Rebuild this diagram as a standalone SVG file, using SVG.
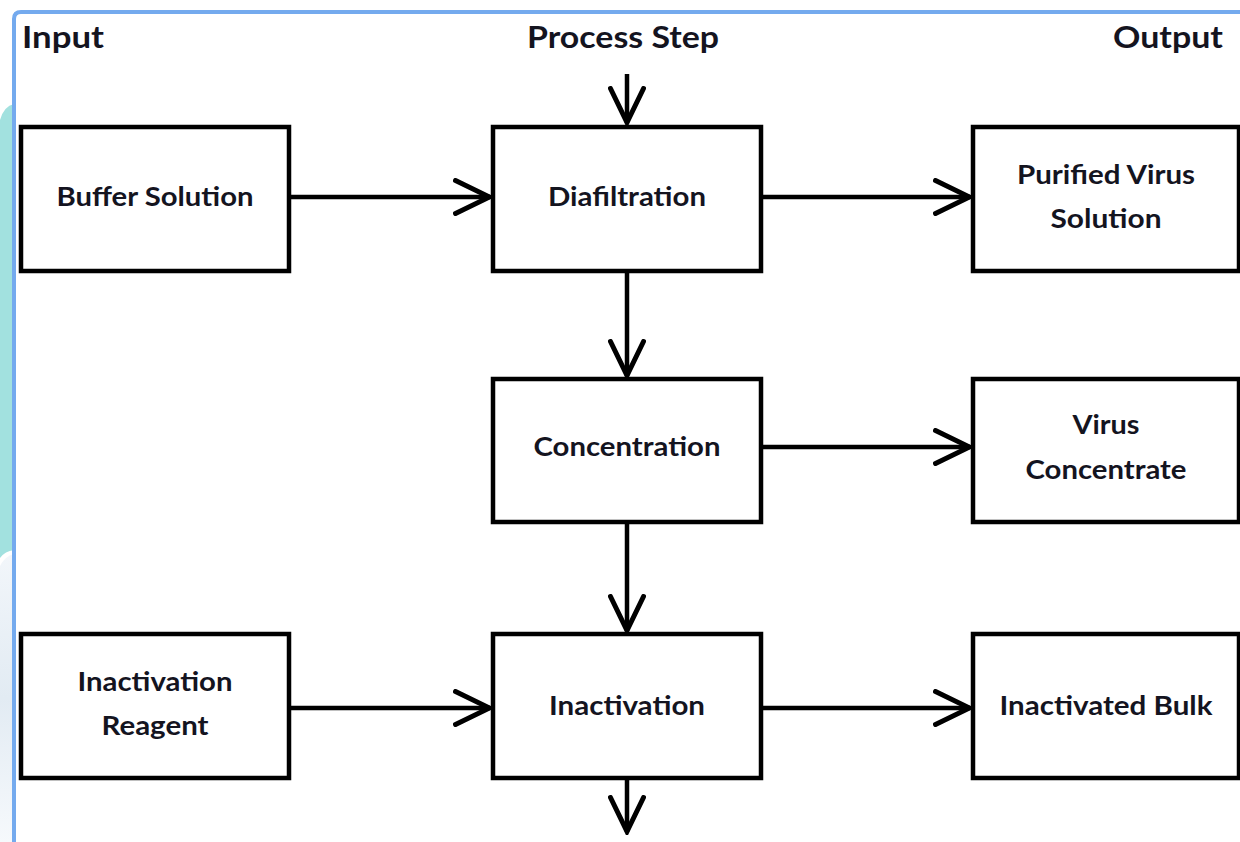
<svg xmlns="http://www.w3.org/2000/svg" width="1240" height="842" viewBox="0 0 1240 842">
  <defs>
    <linearGradient id="lowerBand" x1="0" y1="0" x2="0" y2="1">
      <stop offset="0" stop-color="#f2f6fa"/>
      <stop offset="0.5" stop-color="#e2ebf3"/>
      <stop offset="1" stop-color="#f6f9fc"/>
    </linearGradient>
    <marker id="chevron" viewBox="0 0 40 38" refX="37.5" refY="19" markerWidth="40" markerHeight="38" markerUnits="userSpaceOnUse" orient="auto">
      <path d="M3,2.5 L37,19 L3,35.5" fill="none" stroke="#000" stroke-width="5" stroke-linecap="round" stroke-linejoin="miter"/>
    </marker>
    <style>
      .box { fill: #fff; stroke: #000; stroke-width: 4.5; }
      .lbl { font-family: Lato, "Open Sans", "Liberation Sans", sans-serif; font-weight: 700; font-size: 26px; fill: #14141f; text-anchor: middle; }
      .hdr { font-family: Lato, "Open Sans", "Liberation Sans", sans-serif; font-weight: 700; font-size: 30px; fill: #14141f; }
      .wire { fill: none; stroke: #000; stroke-width: 4.5; marker-end: url(#chevron); }
    </style>
  </defs>

  <!-- page background -->
  <rect x="0" y="0" width="1240" height="842" fill="#fff"/>
  <!-- side decoration bands -->
  <path d="M0,120 Q4,106 14,104 L14,550 Q5,551 0,558 Z" fill="#a2e1df"/>
  <path d="M0,566 Q5,556 14,554 L14,842 L0,842 Z" fill="url(#lowerBand)"/>
  <!-- frame -->
  <path d="M14,842 L14,19 Q14,12 21,12 L1240,12" fill="none" stroke="#74aaee" stroke-width="4"/>

  <!-- column headers -->
  <text class="hdr" x="22" y="48" textLength="82" lengthAdjust="spacingAndGlyphs">Input</text>
  <text class="hdr" x="527" y="48" textLength="192" lengthAdjust="spacingAndGlyphs">Process Step</text>
  <text class="hdr" x="1113" y="48" textLength="110" lengthAdjust="spacingAndGlyphs">Output</text>

  <g id="buffer-solution">
    <rect class="box" x="21" y="127" width="268" height="144"/>
    <text class="lbl" x="155" y="206" textLength="197" lengthAdjust="spacingAndGlyphs">Buffer Solution</text>
  </g>
  <g id="diafiltration">
    <rect class="box" x="493" y="127" width="268" height="144"/>
    <text class="lbl" x="627" y="206" textLength="158" lengthAdjust="spacingAndGlyphs">Diafiltration</text>
  </g>
  <g id="purified-virus-solution">
    <rect class="box" x="973" y="127" width="266" height="144"/>
    <text class="lbl" x="1106" y="184" textLength="178" lengthAdjust="spacingAndGlyphs">Purified Virus</text>
    <text class="lbl" x="1106" y="228" textLength="111" lengthAdjust="spacingAndGlyphs">Solution</text>
  </g>
  <g id="concentration">
    <rect class="box" x="493" y="379" width="268" height="143"/>
    <text class="lbl" x="627" y="456" textLength="187" lengthAdjust="spacingAndGlyphs">Concentration</text>
  </g>
  <g id="virus-concentrate">
    <rect class="box" x="973" y="379" width="266" height="143"/>
    <text class="lbl" x="1106" y="434" textLength="67" lengthAdjust="spacingAndGlyphs">Virus</text>
    <text class="lbl" x="1106" y="479" textLength="161" lengthAdjust="spacingAndGlyphs">Concentrate</text>
  </g>
  <g id="inactivation-reagent">
    <rect class="box" x="21" y="634" width="268" height="144"/>
    <text class="lbl" x="155" y="691" textLength="155" lengthAdjust="spacingAndGlyphs">Inactivation</text>
    <text class="lbl" x="155" y="735" textLength="107" lengthAdjust="spacingAndGlyphs">Reagent</text>
  </g>
  <g id="inactivation">
    <rect class="box" x="493" y="634" width="268" height="144"/>
    <text class="lbl" x="627" y="715" textLength="156" lengthAdjust="spacingAndGlyphs">Inactivation</text>
  </g>
  <g id="inactivated-bulk">
    <rect class="box" x="973" y="634" width="266" height="144"/>
    <text class="lbl" x="1106" y="715" textLength="213" lengthAdjust="spacingAndGlyphs">Inactivated Bulk</text>
  </g>

  <g id="connectors">
    <path class="wire" d="M627,74 L627,123"/>
    <path class="wire" d="M289,197 L490,197"/>
    <path class="wire" d="M761,197 L970,197"/>
    <path class="wire" d="M627,271 L627,376"/>
    <path class="wire" d="M761,447 L970,447"/>
    <path class="wire" d="M627,522 L627,631"/>
    <path class="wire" d="M289,708 L490,708"/>
    <path class="wire" d="M761,708 L970,708"/>
    <path class="wire" d="M627,778 L627,832"/>
  </g>
</svg>
